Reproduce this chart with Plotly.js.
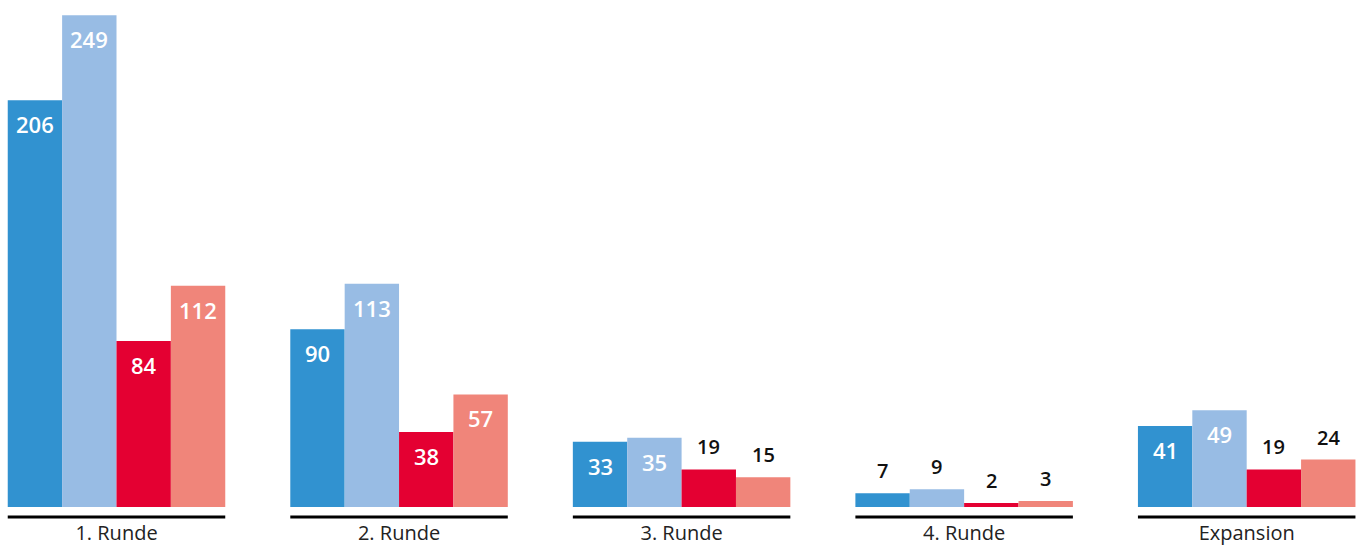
<!DOCTYPE html>
<html>
<head>
<meta charset="utf-8">
<script src="https://cdn.plot.ly/plotly-3.0.1.min.js"></script>
<style>html,body{margin:0;padding:0;background:#fff;}#chart{width:1357px;height:547px;}</style>
</head>
<body>
<div id="chart"></div>
<script>
var categories = ['1. Runde', '2. Runde', '3. Runde', '4. Runde', 'Expansion'];
var seriesNames = ['Serie A', 'Serie B', 'Serie C', 'Serie D'];
var seriesA = [206, 90, 33, 7, 41];
var seriesB = [249, 113, 35, 9, 49];
var seriesC = [84, 38, 19, 2, 19];
var seriesD = [112, 57, 15, 3, 24];
var seriesValues = [seriesA, seriesB, seriesC, seriesD];
var colors = ['#3192d0', '#98bce4', '#e40032', '#f0857a'];

var groupWidth = 0.7698;
var barW = groupWidth / seriesValues.length;
var insideThreshold = 30;

var traces = [];
var annotations = [];
var shapes = [];
seriesValues.forEach(function (vals, s) {
  var xs = categories.map(function (c, i) { return i + (s - (seriesValues.length - 1) / 2) * barW; });
  traces.push({
    type: 'bar',
    name: seriesNames[s],
    x: xs,
    y: vals,
    width: barW,
    marker: { color: colors[s], line: { width: 0 } },
    hoverinfo: 'name+y'
  });
  vals.forEach(function (v, i) {
    var inside = v > insideThreshold;
    annotations.push({
      x: xs[i], y: v, xref: 'x', yref: 'y',
      text: String(v),
      showarrow: false,
      xanchor: 'center',
      yanchor: inside ? 'top' : 'bottom',
      yshift: inside ? -7 : 7,
      font: { family: 'Open Sans, Noto Sans, sans-serif', size: inside ? 22 : 20, color: inside ? '#ffffff' : '#111111', weight: 600 }
    });
  });
});
categories.forEach(function (c, i) {
  shapes.push({
    type: 'line', xref: 'x', yref: 'paper',
    x0: i - groupWidth / 2, x1: i + groupWidth / 2,
    y0: -0.0197, y1: -0.0197,
    line: { color: '#000000', width: 3 }
  });
});

var layout = {
  width: 1357, height: 547,
  margin: { l: 0, r: 0, t: 0, b: 40, pad: 0 },
  paper_bgcolor: '#ffffff', plot_bgcolor: '#ffffff',
  showlegend: false,
  barmode: 'overlay',
  xaxis: {
    range: [-0.4123, 4.3904],
    tickvals: categories.map(function (c, i) { return i; }),
    ticktext: categories,
    showgrid: false, zeroline: false, showline: false, ticks: '',
    ticklabelstandoff: 12,
    tickfont: { family: 'Open Sans, Noto Sans, sans-serif', size: 20, color: '#222222', weight: 400 }
  },
  yaxis: {
    range: [0, 256.7],
    visible: false, showgrid: false, zeroline: false
  },
  annotations: annotations,
  shapes: shapes
};

Plotly.newPlot('chart', traces, layout, { staticPlot: true, displayModeBar: false });
</script>
</body>
</html>
